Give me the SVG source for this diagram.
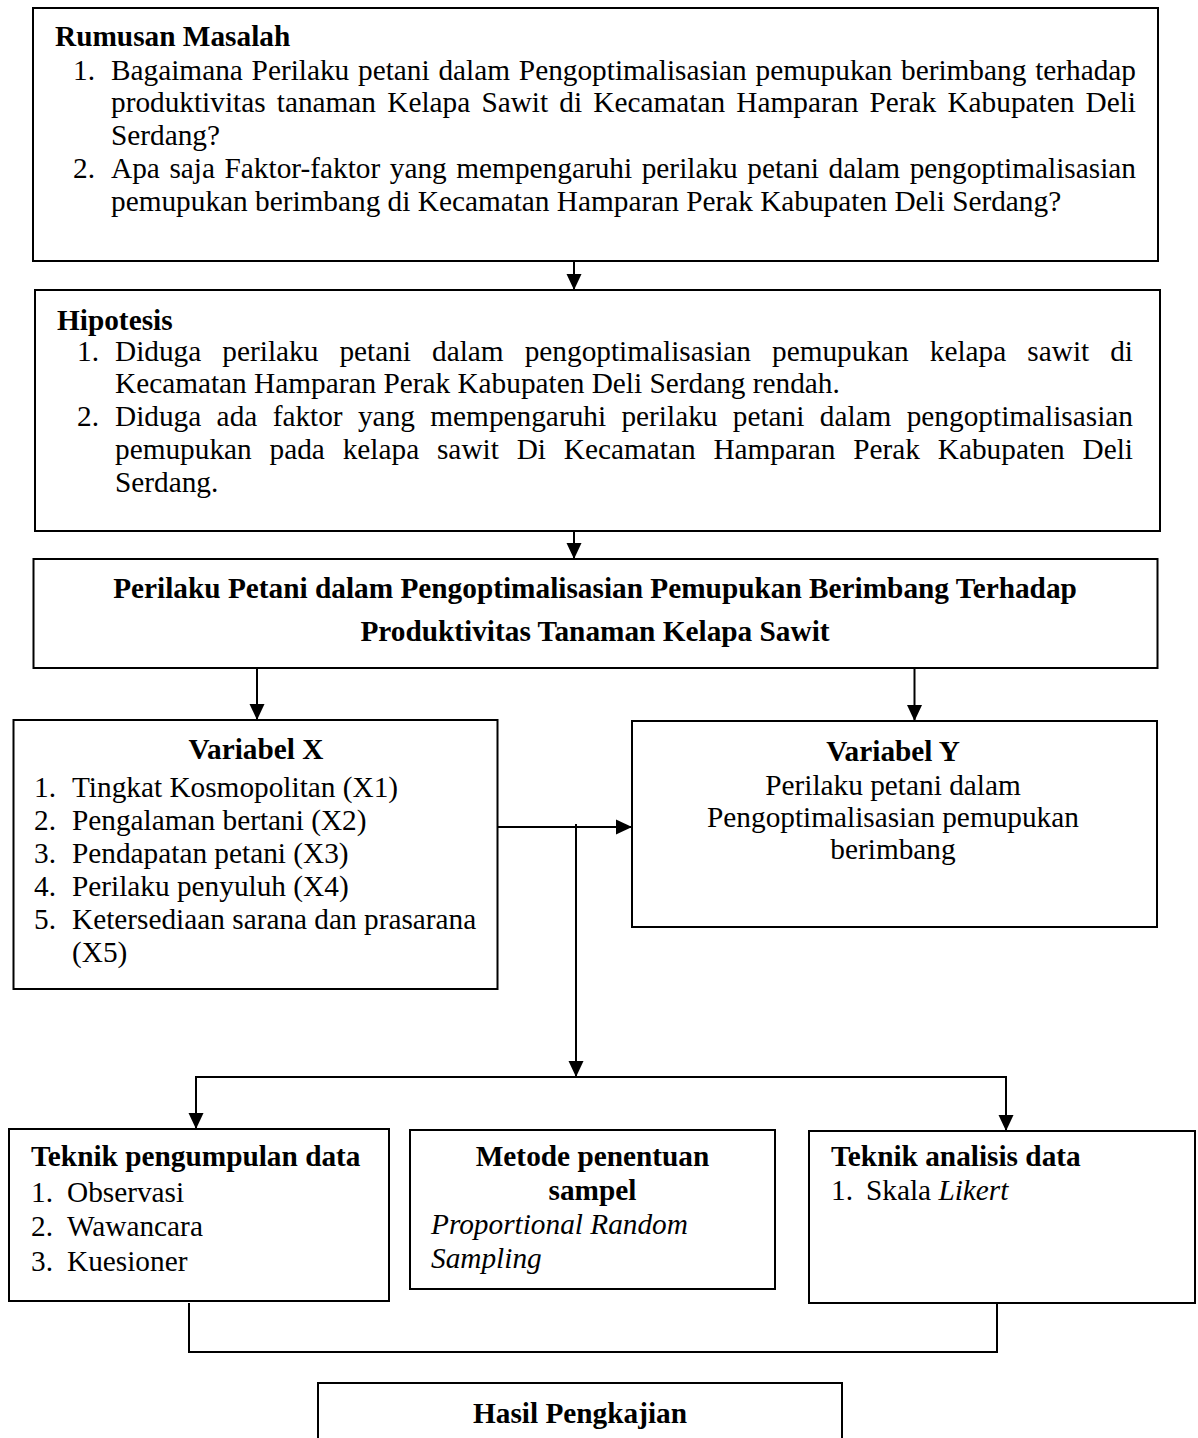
<svg xmlns="http://www.w3.org/2000/svg" width="1198" height="1438" viewBox="0 0 1198 1438">
<style>
.box{fill:#fff;stroke:#000;stroke-width:2}
text{font-family:"Liberation Serif","Times New Roman",serif;font-size:29.3px;fill:#000}
.b{font-weight:bold}
.i{font-style:italic}
.c{text-anchor:middle}
.ln{stroke:#000;stroke-width:2;fill:none}
</style>
<defs>
<marker id="ah" markerUnits="userSpaceOnUse" markerWidth="16" markerHeight="16" viewBox="0 0 16 15" refX="16" refY="7.5" orient="auto">
<path d="M0,0 L16,7.5 L0,15 Z" fill="#000"/>
</marker>
</defs>
<rect width="1198" height="1438" fill="#fff"/>

<g id="rumusan">
<rect class="box" x="33" y="8" width="1125" height="253"/>
<text class="b" x="55" y="46">Rumusan Masalah</text>
<text x="73" y="80">1.</text>
<text x="111" y="80" word-spacing="1.5" textLength="1025" lengthAdjust="spacing">Bagaimana Perilaku petani dalam Pengoptimalisasian pemupukan berimbang terhadap</text>
<text x="111" y="112" word-spacing="3.9" textLength="1025" lengthAdjust="spacing">produktivitas tanaman Kelapa Sawit di Kecamatan Hamparan Perak Kabupaten Deli</text>
<text x="111" y="145">Serdang?</text>
<text x="73" y="178">2.</text>
<text x="111" y="178" word-spacing="2.2" textLength="1025" lengthAdjust="spacing">Apa saja Faktor-faktor yang mempengaruhi perilaku petani dalam pengoptimalisasian</text>
<text x="111" y="211">pemupukan berimbang di Kecamatan Hamparan Perak Kabupaten Deli Serdang?</text>
</g>

<g id="hipotesis">
<rect class="box" x="35" y="290" width="1125" height="241"/>
<text class="b" x="57" y="330">Hipotesis</text>
<text x="77" y="361">1.</text>
<text x="115" y="361" word-spacing="13.7" textLength="1018" lengthAdjust="spacing">Diduga perilaku petani dalam pengoptimalisasian pemupukan kelapa sawit di</text>
<text x="115" y="393">Kecamatan Hamparan Perak Kabupaten Deli Serdang rendah.</text>
<text x="77" y="426">2.</text>
<text x="115" y="426" word-spacing="8" textLength="1018" lengthAdjust="spacing">Diduga ada faktor yang mempengaruhi perilaku petani dalam pengoptimalisasian</text>
<text x="115" y="459" word-spacing="10.5" textLength="1018" lengthAdjust="spacing">pemupukan pada kelapa sawit Di Kecamatan Hamparan Perak Kabupaten Deli</text>
<text x="115" y="492">Serdang.</text>
</g>

<g id="judul">
<rect class="box" x="33.5" y="559" width="1124" height="109"/>
<text class="b c" x="595" y="598">Perilaku Petani dalam Pengoptimalisasian Pemupukan Berimbang Terhadap</text>
<text class="b c" x="595" y="641">Produktivitas Tanaman Kelapa Sawit</text>
</g>

<g id="variabel-x">
<rect class="box" x="13.5" y="720" width="484" height="269"/>
<text class="b c" x="256" y="759">Variabel X</text>
<text x="34" y="797">1.</text><text x="72" y="797">Tingkat Kosmopolitan (X1)</text>
<text x="34" y="830">2.</text><text x="72" y="830">Pengalaman bertani (X2)</text>
<text x="34" y="863">3.</text><text x="72" y="863">Pendapatan petani (X3)</text>
<text x="34" y="896">4.</text><text x="72" y="896">Perilaku penyuluh (X4)</text>
<text x="34" y="929">5.</text><text x="72" y="929">Ketersediaan sarana dan prasarana</text>
<text x="72" y="962">(X5)</text>
</g>

<g id="variabel-y">
<rect class="box" x="632" y="721" width="525" height="206"/>
<text class="b c" x="893" y="761">Variabel Y</text>
<text class="c" x="893" y="795">Perilaku petani dalam</text>
<text class="c" x="893" y="827">Pengoptimalisasian pemupukan</text>
<text class="c" x="893" y="859">berimbang</text>
</g>

<g id="teknik-pengumpulan">
<rect class="box" x="9" y="1129" width="380" height="172"/>
<text class="b" x="31" y="1166">Teknik pengumpulan data</text>
<text x="31" y="1202">1.</text><text x="67" y="1202">Observasi</text>
<text x="31" y="1236">2.</text><text x="67" y="1236">Wawancara</text>
<text x="31" y="1271">3.</text><text x="67" y="1271">Kuesioner</text>
</g>

<g id="metode-sampel">
<rect class="box" x="410" y="1130" width="365" height="159"/>
<text class="b c" x="592.5" y="1166">Metode penentuan</text>
<text class="b c" x="592.5" y="1200">sampel</text>
<text class="i" x="431" y="1234">Proportional Random</text>
<text class="i" x="431" y="1268">Sampling</text>
</g>

<g id="teknik-analisis">
<rect class="box" x="809" y="1131" width="386" height="172"/>
<text class="b" x="831" y="1166">Teknik analisis data</text>
<text x="831" y="1200">1.</text>
<text x="866" y="1200">Skala <tspan class="i">Likert</tspan></text>
</g>

<g id="hasil">
<rect class="box" x="318" y="1383" width="524" height="70"/>
<text class="b c" x="580" y="1423">Hasil Pengkajian</text>
</g>

<g id="connectors">
<line class="ln" x1="574" y1="261" x2="574" y2="290" marker-end="url(#ah)"/>
<line class="ln" x1="574" y1="531" x2="574" y2="559" marker-end="url(#ah)"/>
<line class="ln" x1="257" y1="668" x2="257" y2="720" marker-end="url(#ah)"/>
<line class="ln" x1="914.5" y1="668" x2="914.5" y2="721" marker-end="url(#ah)"/>
<line class="ln" x1="497.5" y1="827" x2="632" y2="827" marker-end="url(#ah)"/>
<line class="ln" x1="576" y1="824" x2="576" y2="1077" marker-end="url(#ah)"/>
<line class="ln" x1="195" y1="1077" x2="1007" y2="1077"/>
<line class="ln" x1="196" y1="1076" x2="196" y2="1129" marker-end="url(#ah)"/>
<line class="ln" x1="1006" y1="1076" x2="1006" y2="1131" marker-end="url(#ah)"/>
<polyline class="ln" points="189,1303 189,1352 998,1352"/>
<line class="ln" x1="997" y1="1303" x2="997" y2="1353"/>
</g>
</svg>
